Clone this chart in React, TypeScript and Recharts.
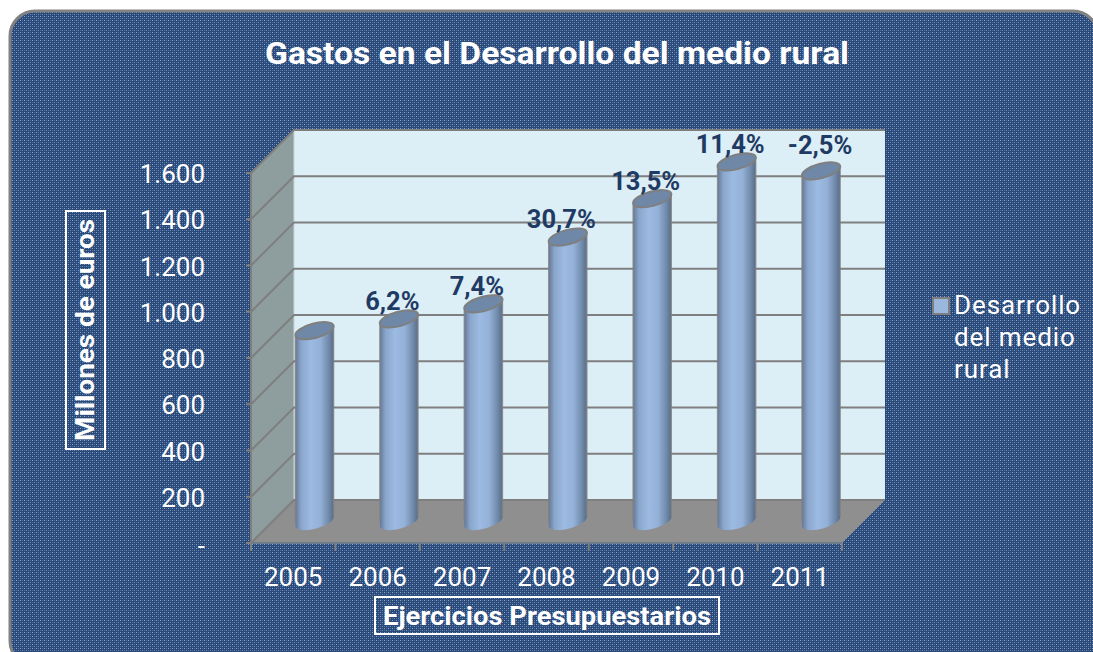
import React from "react";
import { BarChart, Bar, XAxis, YAxis, CartesianGrid, Legend, LabelList } from "recharts";

const years = ["2005", "2006", "2007", "2008", "2009", "2010", "2011"];
const spending = [825, 876, 941, 1230, 1396, 1555, 1516];
const growthLabels = ["", "6,2%", "7,4%", "30,7%", "13,5%", "11,4%", "-2,5%"];
const yTicks = [0, 200, 400, 600, 800, 1000, 1200, 1400, 1600];
const yTickLabels = ["-", "200", "400", "600", "800", "1.000", "1.200", "1.400", "1.600"];
const seriesName = "Desarrollo del medio rural";
const chartTitle = "Gastos en el Desarrollo del medio rural";
const yAxisTitle = "Millones de euros";
const xAxisTitle = "Ejercicios Presupuestarios";

const data = years.map((year, i) => ({ year, spending: spending[i], growth: growthLabels[i] }));

const W = 1093;
const H = 652;
const LEFT = 251;
const RIGHT = 842;
const TOP = 173;
const BOTTOM = 543;
const DEPTH = 43;
const GREY = "#7f7f7f";
const FONT = "Roboto, sans-serif";

function Backdrop() {
  return (
    <g>
      <defs>
        <pattern id="weave" width="4" height="4" patternUnits="userSpaceOnUse">
          <rect width="4" height="4" fill="#29497a" />
          <rect x="0" y="0" width="1" height="1" fill="#90a5c2" />
          <rect x="2" y="0" width="1" height="1" fill="#4f6f98" />
          <rect x="0" y="2" width="1" height="1" fill="#4f6f98" />
          <rect x="2" y="2" width="1" height="1" fill="#7690b2" />
        </pattern>
        <linearGradient id="cyl" x1="0" y1="0" x2="1" y2="0">
          <stop offset="0" stopColor="#64799a" />
          <stop offset="0.15" stopColor="#8aa6cb" />
          <stop offset="0.4" stopColor="#9cbae2" />
          <stop offset="0.65" stopColor="#94b1d8" />
          <stop offset="0.88" stopColor="#6f88a8" />
          <stop offset="1" stopColor="#566c8a" />
        </linearGradient>
      </defs>
      <rect x={0} y={0} width={W} height={H} fill="#ffffff" />
      <rect x={10} y={11} width={1088} height={655} rx={25} ry={25} fill="url(#weave)" stroke="#828282" strokeWidth={3} />
      <text x={557} y={64} textAnchor="middle" fill="#ffffff" fontFamily={FONT} fontWeight={700} fontSize={31} textLength={584} lengthAdjust="spacingAndGlyphs">
        {chartTitle}
      </text>
      <polygon points={`${LEFT + DEPTH},${TOP - DEPTH} ${RIGHT + DEPTH},${TOP - DEPTH} ${RIGHT + DEPTH},${BOTTOM - DEPTH} ${LEFT + DEPTH},${BOTTOM - DEPTH}`} fill="#dceef6" />
      <polygon points={`${LEFT},${TOP} ${LEFT + DEPTH},${TOP - DEPTH} ${LEFT + DEPTH},${BOTTOM - DEPTH} ${LEFT},${BOTTOM}`} fill="#8e9d9e" />
      <polygon points={`${LEFT},${BOTTOM} ${LEFT + DEPTH},${BOTTOM - DEPTH} ${RIGHT + DEPTH},${BOTTOM - DEPTH} ${RIGHT},${BOTTOM}`} fill="#8f8f8f" />
      <line x1={LEFT + DEPTH} y1={TOP - DEPTH} x2={LEFT + DEPTH} y2={BOTTOM - DEPTH} stroke="#c9d4d8" strokeWidth={1} />
    </g>
  );
}

function GridLine(props: any) {
  const { x1, y1, x2, y2 } = props;
  return (
    <polyline
      points={`${x1},${y1} ${x1 + DEPTH},${y1 - DEPTH} ${x2 + DEPTH},${y2 - DEPTH}`}
      fill="none"
      stroke={GREY}
      strokeWidth={2}
    />
  );
}

function YTick(props: any) {
  const { x, y, payload } = props;
  const i = yTicks.indexOf(payload.value);
  return (
    <text x={x} y={y + (payload.value === 0 ? 12 : 10)} textAnchor="end" fill="#ffffff" fontFamily={FONT} fontSize={26}>
      {yTickLabels[i]}
    </text>
  );
}

function XTick(props: any) {
  const { x, y, payload, index } = props;
  const half = (RIGHT - LEFT) / 14;
  return (
    <g>
      <line x1={x - half} y1={BOTTOM} x2={x - half} y2={BOTTOM + 8} stroke={GREY} strokeWidth={2} />
      {index === years.length - 1 ? <line x1={x + half} y1={BOTTOM} x2={x + half} y2={BOTTOM + 8} stroke={GREY} strokeWidth={2} /> : null}
      <text x={x} y={y + 35} textAnchor="middle" fill="#ffffff" fontFamily={FONT} fontSize={26}>
        {payload.value}
      </text>
    </g>
  );
}

function Cylinder(props: any) {
  const { x, y, width, height } = props;
  const shift = DEPTH / 2;
  const cx = x + width / 2 + shift;
  const top = y - shift;
  const base = y + height - shift;
  const rx = 19.7;
  const ry = 7.2;
  const w = rx * 0.966;
  const d = rx * 0.259;
  const body = `M${cx - w},${top + d} L${cx - w},${base + d} A${rx},${ry} -15 0 0 ${cx + w},${base - d} L${cx + w},${top - d} Z`;
  return (
    <g>
      <path d={body} fill="url(#cyl)" />
      <line x1={cx - w} y1={top + d} x2={cx - w} y2={base + d - 6} stroke={GREY} strokeWidth={1.5} strokeOpacity={0.8} />
      <line x1={cx + w} y1={top - d} x2={cx + w} y2={base - d} stroke={GREY} strokeWidth={1.5} strokeOpacity={0.8} />
      <ellipse cx={cx} cy={top} rx={rx} ry={ry} transform={`rotate(-15 ${cx} ${top})`} fill="#6f88a8" stroke={GREY} strokeWidth={2} />
    </g>
  );
}

function GrowthLabel(props: any) {
  const { x, y, width, index, value } = props;
  if (!value) return null;
  const last = index === years.length - 1;
  const cx = x + width / 2 + DEPTH / 2 + (last ? -1 : -6.5);
  const top = y - DEPTH / 2 - (last ? 17 : 9);
  return (
    <text x={cx} y={top} textAnchor="middle" fill="#1f3a63" fontFamily={FONT} fontWeight={700} fontSize={25.5}>
      {value}
    </text>
  );
}

function YTitle() {
  return (
    <g>
      <rect x={66} y={211} width={39} height={238} fill="none" stroke="#ffffff" strokeWidth={2} />
      <text transform="translate(94 330) rotate(-90)" textAnchor="middle" fill="#ffffff" fontFamily={FONT} fontWeight={700} fontSize={25} textLength={222} lengthAdjust="spacingAndGlyphs">
        {yAxisTitle}
      </text>
    </g>
  );
}

function XTitle() {
  return (
    <g>
      <rect x={375} y={597} width={344} height={37} fill="none" stroke="#ffffff" strokeWidth={2} />
      <text x={547} y={625} textAnchor="middle" fill="#ffffff" fontFamily={FONT} fontWeight={700} fontSize={25} textLength={328} lengthAdjust="spacingAndGlyphs">
        {xAxisTitle}
      </text>
    </g>
  );
}

function LegendBox(props: any) {
  const item = props.payload?.[0];
  return (
    <div style={{ position: "relative", width: 150, fontFamily: FONT, fontSize: 26, lineHeight: "32px", color: "#ffffff", letterSpacing: "0.9px" }}>
      <span style={{ position: "absolute", left: 1, top: 8, width: 14, height: 14, background: "#9ab8de", border: "2px solid #7f7f7f" }} />
      <div style={{ marginLeft: 23, width: 130 }}>{item?.value}</div>
    </div>
  );
}

export default function App() {
  return (
    <div style={{ position: "absolute", left: 0, top: 0, width: W, height: H, overflow: "hidden" }}>
      <BarChart
        width={W}
        height={H}
        data={data}
        barSize={38}
        margin={{ top: TOP, right: W - RIGHT - 150, bottom: H - BOTTOM - 60, left: LEFT - 100 }}
      >
        <Backdrop />
        <CartesianGrid zIndex={1} vertical={false} horizontal={(p: any) => <GridLine key={p.key} {...p} />} />
        <XAxis dataKey="year" height={60} tickLine={false} axisLine={{ stroke: "#6d7c8c", strokeWidth: 2 }} tick={<XTick />} interval={0} />
        <YAxis
          type="number"
          width={100}
          domain={[0, 1600]}
          ticks={yTicks}
          interval={0}
          tickSize={5}
          tickMargin={41}
          tickLine={{ stroke: GREY, strokeWidth: 2 }}
          axisLine={{ stroke: GREY, strokeWidth: 2 }}
          tick={<YTick />}
        />
        <Legend
          layout="vertical"
          align="right"
          verticalAlign="middle"
          width={150}
          content={<LegendBox />}
          wrapperStyle={{ left: 931, top: 289, width: 150 }}
        />
        <Bar dataKey="spending" name={seriesName} fill="#9ab8de" isAnimationActive={false} shape={<Cylinder />}>
          <LabelList dataKey="growth" content={<GrowthLabel />} />
        </Bar>
        <YTitle />
        <XTitle />
      </BarChart>
    </div>
  );
}
